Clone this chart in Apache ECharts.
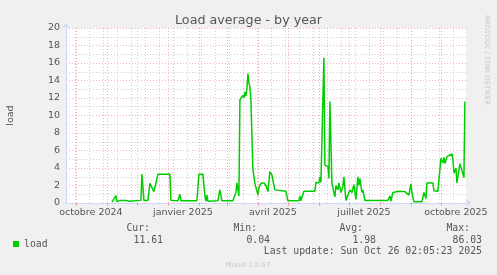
<!DOCTYPE html>
<html>
<head>
<meta charset="utf-8">
<script src="https://cdn.jsdelivr.net/npm/echarts@6/dist/echarts.min.js"></script>
<style>
html,body{margin:0;padding:0;background:#f0f0f0;}
#c{width:497px;height:275px;}
</style>
</head>
<body>
<div id="c"></div>
<script>
// ---- data ----
var dates = ['2024-11-06','2024-11-10','2024-11-11','2024-11-14','2024-11-16','2024-11-20','2024-11-23','2024-11-25','2024-12-05','2024-12-06','2024-12-08','2024-12-12','2024-12-14','2024-12-16','2024-12-18','2024-12-20','2024-12-22','2025-01-03','2025-01-04','2025-01-11','2025-01-13','2025-01-14','2025-01-30','2025-02-01','2025-02-05','2025-02-07','2025-02-08','2025-02-09','2025-02-10','2025-02-20','2025-02-22','2025-02-24','2025-03-07','2025-03-08','2025-03-10','2025-03-11','2025-03-13','2025-03-14','2025-03-15','2025-03-16','2025-03-17','2025-03-18','2025-03-19','2025-03-20','2025-03-21','2025-03-22','2025-03-23','2025-03-24','2025-03-25','2025-03-27','2025-03-29','2025-04-01','2025-04-02','2025-04-04','2025-04-07','2025-04-09','2025-04-11','2025-04-13','2025-04-15','2025-04-16','2025-04-18','2025-04-19','2025-04-29','2025-05-01','2025-05-12','2025-05-13','2025-05-14','2025-05-17','2025-05-28','2025-05-29','2025-05-31','2025-06-01','2025-06-02','2025-06-03','2025-06-04','2025-06-06','2025-06-07','2025-06-10','2025-06-11','2025-06-12','2025-06-14','2025-06-15','2025-06-17','2025-06-18','2025-06-20','2025-06-21','2025-06-23','2025-06-25','2025-06-26','2025-06-28','2025-06-30','2025-07-02','2025-07-04','2025-07-06','2025-07-08','2025-07-10','2025-07-11','2025-07-12','2025-07-14','2025-07-15','2025-07-17','2025-08-09','2025-08-11','2025-08-12','2025-08-14','2025-08-20','2025-08-22','2025-08-26','2025-08-28','2025-08-30','2025-09-01','2025-09-02','2025-09-04','2025-09-12','2025-09-14','2025-09-16','2025-09-17','2025-09-23','2025-09-24','2025-09-28','2025-10-01','2025-10-03','2025-10-04','2025-10-05','2025-10-07','2025-10-09','2025-10-12','2025-10-13','2025-10-14','2025-10-16','2025-10-17','2025-10-20','2025-10-22','2025-10-24','2025-10-25'];
var loads = [0.1,0.85,0.15,0.3,0.1,0.3,0.2,0.3,0.3,3.3,0.3,0.3,2.25,2.25,1.3,2.25,3.3,3.3,0.3,0.25,1.0,0.25,0.25,3.3,3.3,0.8,0.2,0.9,0.2,0.25,1.5,0.25,0.25,0.6,1.2,2.3,0.8,11.8,11.9,11.6,12.3,12.0,12.7,12.2,13.0,14.8,13.7,13.3,11.8,3.8,2.25,0.9,1.7,2.25,2.3,2.0,1.3,3.6,3.2,2.6,1.5,1.35,1.35,0.25,0.25,0.8,0.25,1.35,1.35,2.35,2.4,2.3,3.0,2.35,2.4,16.6,4.3,4.2,2.8,11.6,2.25,2.3,0.7,2.0,1.5,2.3,1.2,1.9,3.0,0.3,0.4,1.5,1.2,2.1,0.4,3.0,2.0,2.8,1.2,1.5,0.3,0.3,0.8,0.2,1.2,1.35,1.2,1.3,1.1,0.9,2.2,1.2,0.15,0.15,1.2,0.5,2.3,2.3,1.4,1.35,5.1,4.6,5.2,4.5,5.3,5.3,5.6,5.0,3.4,4.0,2.3,4.5,4.6,2.9,11.6];
var xLabelDates = ['2024-10-16','2025-01-16','2025-04-16','2025-07-16','2025-10-16'];
var xLabels = ['octobre 2024','janvier 2025','avril 2025','juillet 2025','octobre 2025'];
var yTicks = [0,2,4,6,8,10,12,14,16,18,20];
var seriesName = 'load';
var statHeaders = ['Cur:','Min:','Avg:','Max:'];
var statValues = ['11.61','0.04','1.98','86.03'];
var lastUpdate = 'Last update: Sun Oct 26 02:05:23 2025';
var titleText = 'Load average - by year';
var yName = 'load';
var sideText = 'RRDTOOL / TOBI OETIKER';
var footer = 'Munin 2.0.67';

function ts(s){var p=s.split('-');return new Date(+p[0],+p[1]-1,+p[2]).getTime();}
var endT = new Date(2025,9,26,2,5,23).getTime();
var startT = endT - 400*86400000;

var monthStarts = [];
for (var y=2024,m=9; y<2026; ){ var t=new Date(y,m,1).getTime(); if(t>endT)break; if(t>startT) monthStarts.push(t); m++; if(m>11){m=0;y++;} }
var minorLines = [];
for (var t2=new Date(2024,8,30).getTime(); t2<endT; t2+=14*86400000){ minorLines.push(t2); }

var seriesData = dates.map(function(d,i){return [ts(d), loads[i]];});
var labelVals = xLabelDates.map(ts);

var RED = 'rgba(230,120,120,0.55)';
var GRAY = 'rgba(160,160,160,0.5)';
var AXIS = '#cfd6f8';
var MONO = '"DejaVu Sans Mono", monospace';
var SANS = '"DejaVu Sans", sans-serif';

var chart = echarts.init(document.getElementById('c'), null, {renderer:'canvas'});

var markData = [];
minorLines.forEach(function(t){ markData.push({xAxis:t, lineStyle:{color:GRAY,type:[1,2],width:1}}); });
monthStarts.forEach(function(t){ markData.push({xAxis:t, lineStyle:{color:RED,type:[1,2],width:1}}); });

var statX = [150,257,363,470];
var valX = [163,270,376,482];
var graphics = [];
statHeaders.forEach(function(h,i){
  graphics.push({type:'text', x:statX[i], y:228, style:{text:h, font:'9.8px '+MONO, fill:'#555', align:'right', verticalAlign:'middle'}});
  graphics.push({type:'text', x:valX[i], y:240, style:{text:statValues[i], font:'9.8px '+MONO, fill:'#555', align:'right', verticalAlign:'middle'}});
});
graphics.push({type:'text', x:482, y:251, style:{text:lastUpdate, font:'9.8px '+MONO, fill:'#555', align:'right', verticalAlign:'middle'}});
graphics.push({type:'text', x:248, y:265, style:{text:footer, font:'6.8px '+SANS, fill:'#c8c8c8', align:'center', verticalAlign:'middle'}});
graphics.push({type:'text', x:487, y:15, rotation:-Math.PI/2, style:{text:sideText, font:'7px '+SANS, fill:'#c8c8c8', align:'left', verticalAlign:'middle'}});

chart.setOption({
  backgroundColor:'#f0f0f0',
  animation:false,
  title:{text:titleText, left:'center', top:9, textStyle:{fontFamily:SANS, fontSize:12.7, fontWeight:'normal', color:'#555'}},
  legend:{data:[seriesName], left:8, top:234, itemWidth:6, itemHeight:6, icon:'rect', textStyle:{fontFamily:MONO, fontSize:9.8, color:'#555'}},
  grid:{left:66, top:28, width:400, height:175, containLabel:false, outerBoundsMode:'none', show:true, backgroundColor:'#fff', borderWidth:0},
  xAxis:{type:'value', min:startT, max:endT,
    axisLine:{show:true, lineStyle:{color:AXIS, width:1}, symbol:['none','arrow'], symbolSize:[6,5], symbolOffset:[0,5]},
    axisTick:{show:true, customValues:monthStarts, length:3, lineStyle:{color:RED}},
    splitLine:{show:false},
    axisLabel:{customValues:labelVals, hideOverlap:false, showMinLabel:true, showMaxLabel:true, margin:5, fontFamily:SANS, fontSize:9.5, color:'#555',
      formatter:function(v){var i=labelVals.indexOf(v); return i>=0?xLabels[i]:'';}}
  },
  yAxis:{type:'value', min:0, max:20, interval:1, name:yName, nameLocation:'middle', nameGap:50, nameRotate:90,
    nameTextStyle:{fontFamily:SANS, fontSize:9.5, color:'#555'},
    axisLine:{show:true, lineStyle:{color:AXIS, width:1}, symbol:['none','arrow'], symbolSize:[6,5], symbolOffset:[0,5]},
    axisTick:{show:false},
    splitLine:{show:true, lineStyle:{color:[RED,GRAY], type:[1,2], width:1}},
    axisLabel:{margin:6, fontFamily:SANS, fontSize:9.5, color:'#555', formatter:function(v){return yTicks.indexOf(v)>=0?String(v):'';}}
  },
  series:[{name:seriesName, type:'line', data:seriesData, showSymbol:false, symbol:'none',
    itemStyle:{color:'#00cc00'}, lineStyle:{color:'#00cc00', width:1.5},
    markLine:{silent:true, symbol:'none', label:{show:false}, data:markData, animation:false}, z:3}],
  graphic:graphics
});
</script>
</body>
</html>
